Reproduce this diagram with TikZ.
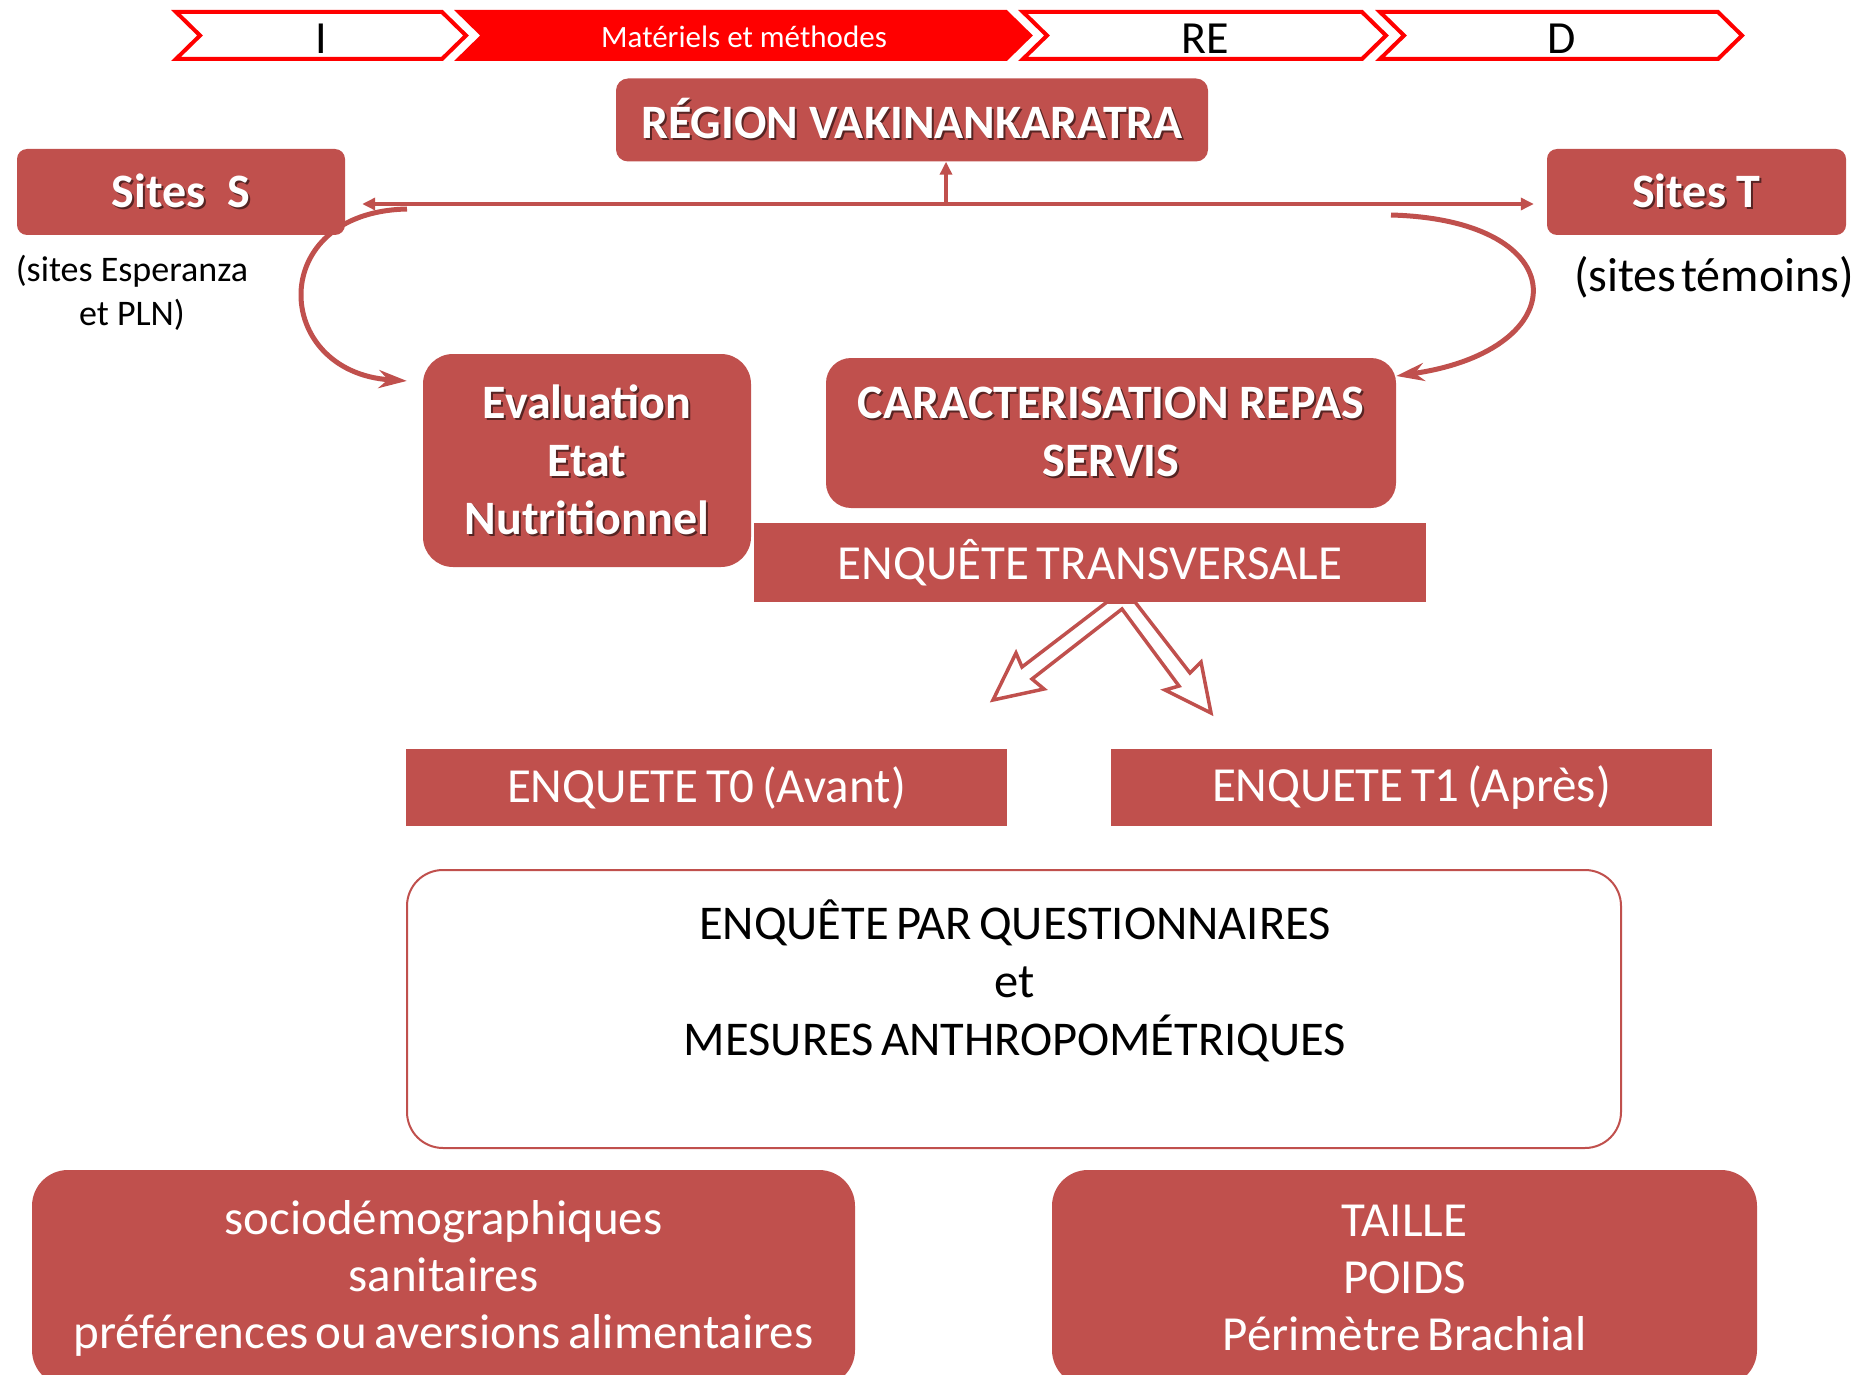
\documentclass[tikz,border=0pt]{standalone}
\usepackage{fontspec}
\setmainfont{Carlito}
\usetikzlibrary{arrows.meta,calc}
\definecolor{boxred}{HTML}{C0504D}
\definecolor{bannerred}{HTML}{FF0000}
\colorlet{shadowc}{boxred!45!black}
\newcommand\fs[2]{\fontsize{#1}{#2}\selectfont}
\newcommand\tight{\spaceskip=0.15em plus 0.05em\relax}
\newcommand\tighter{\spaceskip=0.1em plus 0.03em\relax}
\newcommand\sh[1]{\rlap{\kern2pt\raisebox{-2pt}{\textcolor{shadowc}{#1}}}#1}
\begin{document}
\begin{tikzpicture}[x=1pt,y=-1pt,
  rbox/.style={fill=boxred, draw=none, rounded corners=#1, text=white, inner sep=0pt, align=center},
  sbox/.style={fill=boxred, draw=none, text=white, inner sep=0pt, align=center},
  boldtxt/.style={font=\bfseries\fs{48}{58}},
  regtxt/.style={font=\fs{49}{57}\tight},
  chevw/.style={draw=bannerred, line width=4, fill=white, line join=miter},
  chevr/.style={draw=bannerred, line width=4, fill=bannerred, line join=miter},
  conn/.style={draw=boxred, line width=4},
  smallboth/.style={{Triangle[length=13,width=12]}-{Triangle[length=13,width=12]}},
  smallend/.style={-{Triangle[length=13,width=12]}},
  bigend/.style={-{Stealth[length=28,width=18]}},
]
\useasboundingbox (0,0) rectangle (1861,1375);

% ---- banner ----
\draw[chevw] (176,12) -- (466-24,12) -- (466,35.5) -- (466-24,59) -- (176,59) -- (176+24,35.5) -- cycle;
\draw[chevr] (459,12) -- (1030-24,12) -- (1030,35.5) -- (1030-24,59) -- (459,59) -- (459+24,35.5) -- cycle;
\draw[chevw] (1023,12) -- (1386-24,12) -- (1386,35.5) -- (1386-24,59) -- (1023,59) -- (1023+24,35.5) -- cycle;
\draw[chevw] (1380,12) -- (1742-24,12) -- (1742,35.5) -- (1742-24,59) -- (1380,59) -- (1380+24,35.5) -- cycle;
\node[font=\fs{46}{54}, inner sep=0pt] (bI) at (321,39) {I};
\node[font=\fs{31}{37}, text=white, inner sep=0pt] (bMM) at (744,37) {Matériels et méthodes};
\node[font=\fs{46}{54}, inner sep=0pt] (bRE) at (1205,39) {RE};
\node[font=\fs{46}{54}, inner sep=0pt] (bD) at (1562,39) {D};

% ---- top boxes ----
\node[rbox=12pt, boldtxt, minimum width=592, minimum height=83] (region) at (912,120) {\sh{RÉGION VAKINANKARATRA}};
\node[rbox=10pt, boldtxt, minimum width=328, minimum height=86] (sitesS) at (181,192) {\sh{Sites\hspace{0.45em}S}};
\node[rbox=10pt, boldtxt, minimum width=299, minimum height=86] (sitesT) at (1696.5,192) {\sh{Sites T}};
\node[font=\fs{36}{44}, align=center, inner sep=0pt] (subS) at (132,293) {(sites Esperanza\\et PLN)};
\node[font=\fs{48}{56}\tighter, inner sep=0pt] (subT) at (1714,277) {(sites témoins)};

\node[rbox=30pt, boldtxt, minimum width=328, minimum height=213] (evaluation) at (587,460.5)
  {\sh{Evaluation}\\\sh{Etat}\\\sh{Nutritionnel}};
\node[rbox=25pt, boldtxt, minimum width=570, minimum height=150] (carac) at (1111,433)
  {\sh{CARACTERISATION REPAS}\\\sh{SERVIS}};

% ---- hollow arrows (behind the transversal bar) ----
\draw[boxred, line width=3.5, fill=white, line join=miter]
  (1107,602) -- (1022,667) -- (1016,653) -- (993,700) -- (1044,689) -- (1032,679)
  -- (1122,609) -- (1179,686) -- (1165,690) -- (1211,713) -- (1201,662) -- (1190,673)
  -- (1135,602) -- cycle;

\node[sbox, regtxt, minimum width=672, minimum height=79] (transv) at (1090,562.5) {ENQUÊTE TRANSVERSALE};

\node[sbox, regtxt, minimum width=601, minimum height=77] (t0) at (706.5,787.5) {ENQUETE T0 (Avant)};
\node[sbox, regtxt, minimum width=601, minimum height=77] (t1) at (1411.5,787.5) {ENQUETE T1 (Après)};

\node[draw=boxred, line width=2, fill=white, rounded corners=36pt, minimum width=1214, minimum height=278, inner sep=0pt] (quest) at (1014,1009) {};
\node[font=\fs{48.5}{58}\tight, align=center, inner sep=0pt] (questtxt) at (1015,981)
  {ENQUÊTE PAR QUESTIONNAIRES\\et\\MESURES ANTHROPOMÉTRIQUES};

\node[rbox=36pt, regtxt, minimum width=823, minimum height=216] (socio) at (443.5,1278)
  {sociodémographiques\\sanitaires\\préférences ou aversions alimentaires};
\node[rbox=36pt, regtxt, minimum width=705, minimum height=216] (mesures) at (1404.5,1278)
  {TAILLE\\POIDS\\Périmètre Brachial};

% ---- connectors ----
\coordinate (hj) at (946,204);
\draw[conn, smallboth, shorten <=17, shorten >=13] (sitesS.east |- hj) -- (sitesT.west |- hj);
\draw[conn, smallend] (hj) -- (hj |- region.south);
\coordinate (cl0) at (407,209);
\draw[conn, line width=5, bigend, shorten >=16]
  (cl0) .. controls (265,212) and (272,372) .. (evaluation.west |- 0,382);
\coordinate (cr0) at (1391,215);
\draw[conn, line width=5, bigend]
  (cr0) .. controls (1577,220) and (1577,350) .. (carac.east |- 0,376);
\end{tikzpicture}
\end{document}
